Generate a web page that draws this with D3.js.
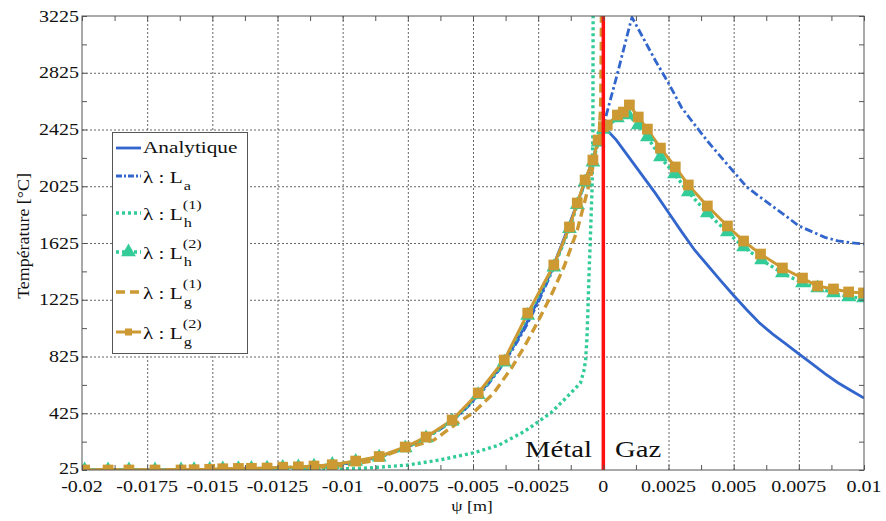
<!DOCTYPE html>
<html><head><meta charset="utf-8">
<script src="https://cdn.jsdelivr.net/npm/d3@7"></script>
<style>body{margin:0;background:#fff;} svg{display:block;font-family:"Liberation Serif",serif;}</style>
</head><body><svg id="c" width="886" height="521"></svg>
<script>
// ---------- data ----------
const xTicks = [-0.02,-0.0175,-0.015,-0.0125,-0.01,-0.0075,-0.005,-0.0025,0,0.0025,0.005,0.0075,0.01];
const xTickLabels = ["-0.02","-0.0175","-0.015","-0.0125","-0.01","-0.0075","-0.005","-0.0025","0","0.0025","0.005","0.0075","0.01"];
const yTicks = [25,425,825,1225,1625,2025,2425,2825,3225];
const yTickLabels = ["25","425","825","1225","1625","2025","2425","2825","3225"];
const legendLabels = ["Analytique","La","Lh1","Lh2","Lg1","Lg2"];

const anaX = [-0.02,-0.0175,-0.015,-0.0125,-0.011,-0.01,-0.0095,-0.009,-0.0085,-0.008,-0.0075,-0.007,-0.0065,-0.006,-0.0055,-0.005,-0.0045,-0.004,-0.0035,-0.003,-0.0025,-0.002,-0.0015,-0.001,-0.0005,0,
  0.0005,0.001,0.0015,0.002,0.0025,0.003,0.0035,0.004,0.0045,0.005,0.0055,0.006,0.0065,0.007,0.0075,0.008,0.0085,0.009,0.0095,0.01];
const anaT = [25,26,28,38,50,68,82,100,125,155,192,235,290,350,425,515,620,740,880,1040,1220,1425,1660,1905,2165,2450,
  2350,2225,2100,1975,1840,1705,1576,1468,1360,1255,1155,1060,983,914,843,775,705,640,585,532];

const laX = [-0.02,-0.0175,-0.015,-0.0125,-0.011,-0.01,-0.0095,-0.009,-0.0085,-0.008,-0.0075,-0.007,-0.0065,-0.006,-0.0055,-0.005,-0.0045,-0.004,-0.0035,-0.003,-0.0025,-0.002,-0.0015,-0.001,-0.0005,0,
  0.0005,0.001,0.0011,0.0015,0.002,0.0025,0.003,0.0035,0.004,0.0045,0.005,0.0055,0.006,0.0065,0.007,0.0075,0.008,0.0085,0.009,0.0095,0.01];
const laT = [25,26,28,37,49,66,80,98,122,152,188,230,284,343,418,507,610,730,868,1025,1205,1410,1645,1895,2160,2450,
  2790,3150,3215,3080,2910,2752,2580,2460,2342,2234,2127,2020,1951,1883,1815,1746,1705,1665,1640,1627,1618];

const lh1X = [-0.02,-0.015,-0.012,-0.0105,-0.009,-0.0075,-0.0063,-0.005,-0.004,-0.003,-0.002,-0.0015,-0.00088,-0.00075,-0.00068,-0.00063,-0.0006,-0.00055,-0.0005,-0.00043,-0.0004,-0.00039];
const lh1T = [25,25,27,30,39,60,95,145,201,300,430,520,638,720,800,950,1103,1400,1650,2020,2450,3400];

const lh2X = [-0.0199,-0.019,-0.0182,-0.0172,-0.0162,-0.0157,-0.0151,-0.0146,-0.014,-0.0135,-0.0129,-0.0123,-0.0117,-0.0111,-0.0104,-0.0095,-0.0086,-0.0076,-0.0068,-0.0058,-0.0048,-0.0038,-0.0029,-0.0019,-0.0013,-0.001,-0.0007,-0.0004,-0.0002,0,
  0.00054,0.00096,0.00134,0.00169,0.00219,0.00273,0.00326,0.00399,0.00476,0.00538,0.00607,0.00687,0.00764,0.00822,0.00883,0.00941,0.00998];
const lh2T = [25,25,25,25,25,26,28,32,34,35,37,43,45,51,63,85,115,180,250,368,555,785,1115,1455,1725,1895,2055,2195,2335,2425,
  2506,2527,2457,2372,2231,2111,1984,1836,1702,1597,1505,1413,1343,1308,1273,1244,1237];

const lg1X = [-0.02,-0.015,-0.012,-0.01,-0.009,-0.0078,-0.0065,-0.0056,-0.005,-0.0042,-0.0035,-0.003,-0.0025,-0.002,-0.0015,-0.001,-0.0006,-0.0004,-0.00025,-0.00015,-0.0001,-0.00008,-0.00007];
const lg1T = [25,27,33,55,85,166,236,356,427,568,751,904,1075,1256,1461,1716,1998,2161,2300,2420,2600,3000,3400];

const lg2X = [-0.0199,-0.019,-0.0182,-0.0172,-0.0162,-0.0157,-0.0151,-0.0146,-0.014,-0.0135,-0.0129,-0.0123,-0.0117,-0.0111,-0.0104,-0.0095,-0.0086,-0.0076,-0.0068,-0.0058,-0.0048,-0.0038,-0.0029,-0.0019,-0.0013,-0.001,-0.0007,-0.0004,-0.0002,0,
  0.00015,0.00054,0.00077,0.001,0.00134,0.00169,0.00219,0.00276,0.00326,0.00399,0.00476,0.00538,0.00603,0.00687,0.00764,0.00822,0.00883,0.00941,0.00998];
const lg2T = [25,25,25,25,25,27,30,34,36,37,39,45,47,53,62,88,120,187,258,377,568,800,1131,1470,1738,1907,2069,2210,2351,2445,
  2457,2527,2548,2598,2513,2428,2294,2161,2034,1886,1745,1639,1547,1449,1378,1322,1301,1280,1273];

// ---------- layout ----------
const BLUE="#3366cc", GREEN="#33cc99", GOLD="#cc9933", RED="#ff1010";
const SX = 1.25;
const L=82, R=864, T=16, B=470;
const svg = d3.select("#c");
const x = d3.scaleLinear().domain([-0.02,0.01]).range([L,R]);
const y = d3.scaleLinear().domain([25,3225]).range([B,T]);

function stext(g, px, py, str, size, anchor){
  return g.append("text").attr("transform",`translate(${px},${py}) scale(${SX},1)`)
    .attr("font-size",size).attr("text-anchor",anchor||"start").attr("fill","#111").text(str);
}

// grid
const grid = svg.append("g");
grid.append("g").attr("transform",`translate(0,${B})`)
  .call(d3.axisBottom(x).tickValues(xTicks.slice(1,-1)).tickSize(-(B-T)).tickFormat(""))
  .call(g=>g.select(".domain").remove());
grid.append("g").attr("transform",`translate(${L},0)`)
  .call(d3.axisLeft(y).tickValues(yTicks.slice(1,-1)).tickSize(-(R-L)).tickFormat(""))
  .call(g=>g.select(".domain").remove());
grid.selectAll("line").attr("stroke","#666").attr("stroke-width",1).attr("stroke-dasharray","2,2");

// clip
svg.append("defs").append("clipPath").attr("id","clip").append("rect")
  .attr("x",L).attr("y",T).attr("width",R-L).attr("height",B-T);
const plot = svg.append("g").attr("clip-path","url(#clip)");

const line = d3.line().x(d=>x(d[0])).y(d=>y(d[1]));
const zip = (a,b)=>a.map((v,i)=>[v,b[i]]);

plot.append("path").attr("d",line(zip(anaX,anaT))).attr("fill","none").attr("stroke",BLUE).attr("stroke-width",2.8);
plot.append("path").attr("d",line(zip(laX,laT))).attr("fill","none").attr("stroke",BLUE).attr("stroke-width",2.8).attr("stroke-dasharray","8,3,2.5,3");
plot.append("path").attr("d",line(zip(lh1X,lh1T))).attr("fill","none").attr("stroke",GREEN).attr("stroke-width",3.4).attr("stroke-dasharray","3,3");
plot.append("path").attr("d",line(zip(lh2X,lh2T))).attr("fill","none").attr("stroke",GREEN).attr("stroke-width",3.4).attr("stroke-dasharray","3,3");
plot.append("path").attr("d",line(zip(lg1X,lg1T))).attr("fill","none").attr("stroke",GOLD).attr("stroke-width",3.4).attr("stroke-dasharray","9,5");
plot.append("path").attr("d",line(zip(lg2X,lg2T))).attr("fill","none").attr("stroke",GOLD).attr("stroke-width",3);

const tri = d3.symbol().type(d3.symbolTriangle).size(95);
const sq = d3.symbol().type(d3.symbolSquare).size(115);
plot.append("g").selectAll("path").data(zip(lh2X,lh2T)).join("path")
  .attr("transform",d=>`translate(${x(d[0])},${y(d[1])})`).attr("d",tri).attr("fill",GREEN);
plot.append("g").selectAll("path").data(zip(lg2X,lg2T)).join("path")
  .attr("transform",d=>`translate(${x(d[0])},${y(d[1])})`).attr("d",sq).attr("fill",GOLD);

// red interface line
svg.append("line").attr("x1",x(0)).attr("x2",x(0)).attr("y1",T).attr("y2",B).attr("stroke",RED).attr("stroke-width",3.5);

// axes ticks (inward) on all sides
const xMinor = d3.range(0,25).map(i=>-0.02+i*0.00125);
const yMinor = d3.range(0,17).map(i=>25+i*200);
function tickAxis(axisFn, scale, vals, tr){
  const g = svg.append("g").attr("transform",tr).call(axisFn(scale).tickValues(vals).tickSize(-5).tickFormat(""));
  g.select(".domain").remove();
  g.selectAll("line").attr("stroke","#555");
}
tickAxis(d3.axisBottom, x, xMinor, `translate(0,${B})`);
tickAxis(d3.axisTop, x, xMinor, `translate(0,${T})`);
tickAxis(d3.axisLeft, y, yMinor, `translate(${L},0)`);
tickAxis(d3.axisRight, y, yMinor, `translate(${R},0)`);
svg.append("rect").attr("x",L).attr("y",T).attr("width",R-L).attr("height",B-T).attr("fill","none").attr("stroke","#555").attr("stroke-width",1);

// tick labels
const lab = svg.append("g");
xTicks.forEach((v,i)=>stext(lab, x(v), 492, xTickLabels[i], 16, "middle"));
yTicks.forEach((v,i)=>stext(lab, 79, y(v)+(i===0?4:5.5), yTickLabels[i], 16, "end"));

// axis titles
svg.append("text").attr("transform",`translate(29,236) rotate(-90) scale(1.12,1)`).attr("font-size",16)
  .attr("text-anchor","middle").attr("fill","#111").text("Température [°C]");
svg.append("text").attr("transform",`translate(472,511) scale(1.2,1)`).attr("font-size",15)
  .attr("text-anchor","middle").attr("fill","#111").text("ψ [m]");

// Métal / Gaz
stext(svg, 592, 457, "Métal", 23, "end");
stext(svg, 615, 457, "Gaz", 23, "start");

// legend
const lg = svg.append("g");
lg.append("rect").attr("x",112.5).attr("y",132.5).attr("width",135).attr("height",221).attr("fill","#fff").attr("stroke","#555");
const legY = [148,176,213,252,292,332];
const styles = [
  {c:BLUE,w:2.8,da:null,m:null},
  {c:BLUE,w:2.8,da:"6,2,2,2",m:null},
  {c:GREEN,w:3.4,da:"3,3",m:null},
  {c:GREEN,w:3.4,da:"3,3",m:"tri"},
  {c:GOLD,w:3.4,da:"9,5",m:null},
  {c:GOLD,w:3,da:null,m:"sq"}
];
const subs = [null,"a","h","h","g","g"];
const sups = [null,null,"(1)","(2)","(1)","(2)"];
legendLabels.forEach((name,i)=>{
  const ly = legY[i], s = styles[i];
  const ln = lg.append("line").attr("x1",116).attr("x2",141).attr("y1",ly).attr("y2",ly).attr("stroke",s.c).attr("stroke-width",s.w);
  if(s.da) ln.attr("stroke-dasharray",s.da);
  if(s.m==="tri") lg.append("path").attr("transform",`translate(128.5,${ly})`).attr("d",tri).attr("fill",s.c);
  if(s.m==="sq") lg.append("path").attr("transform",`translate(128.5,${ly})`).attr("d",d3.symbol().type(d3.symbolSquare).size(50)).attr("fill",s.c);
  if(i===0){ stext(lg,143,ly+5,"Analytique",17,"start"); return; }
  const main = stext(lg,143,ly+7,"λ : L",17,"start");
  const w = main.node().getComputedTextLength()*SX;
  if(subs[i]) stext(lg,143+w+1,ly+14,subs[i],13,"start");
  if(sups[i]) stext(lg,143+w,ly-4,sups[i],13,"start");
});
</script></body></html>
